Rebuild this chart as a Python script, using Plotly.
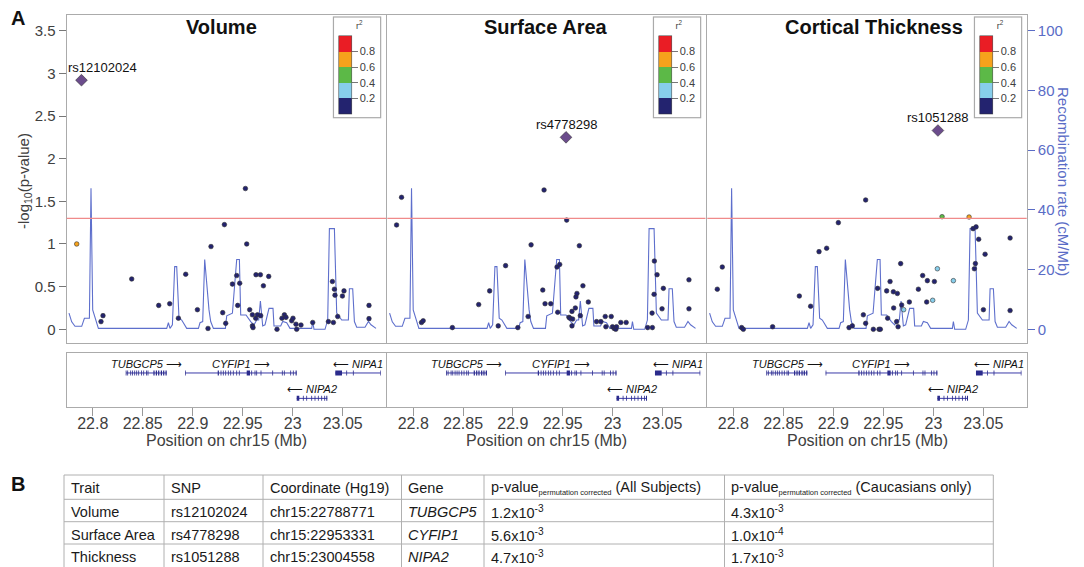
import math
import plotly.graph_objects as go

W, H = 1084, 567
FONT = "Liberation Sans, Arial, Helvetica, sans-serif"

# ---------------- data ----------------
traits = ["Volume", "Surface Area", "Cortical Thickness"]

recomb_pos = [22.7763, 22.7790, 22.7823, 22.7890, 22.7917, 22.7967, 22.7983, 22.8000, 22.8057, 22.8607,
              22.8740, 22.8757, 22.8773, 22.8797, 22.8820, 22.8840, 22.8863, 22.8890, 22.8940, 22.9057,
              22.9073, 22.9100, 22.9120, 22.9163, 22.9180, 22.9207, 22.9327, 22.9340, 22.9397, 22.9440,
              22.9467, 22.9480, 22.9533, 22.9580, 22.9613, 22.9640, 22.9660, 22.9677, 22.9700, 22.9723,
              22.9763, 22.9803, 22.9813, 22.9880, 22.9900, 22.9940, 22.9973, 23.0190, 23.0200, 23.0213,
              23.0323, 23.0350, 23.0367, 23.0417, 23.0440, 23.0490, 23.0557, 23.0567, 23.0600, 23.0617,
              23.0640, 23.0723, 23.0757, 23.0783, 23.0833]
recomb_rate = [5.4, 2.5, 1.0, 1.0, 3.7, 3.7, 47.2, 6.5, 0.3, 0.1,
               0.3, 2.2, 0.3, 1.5, 21.0, 21.0, 3.7, 3.1, 0.3, 0.3,
               2.2, 2.6, 23.4, 6.5, 2.6, 0.3, 0.3, 4.5, 5.4, 23.4,
               23.4, 4.8, 4.8, 2.6, 1.5, 3.1, 3.1, 9.5, 1.1, 1.5,
               7.0, 7.0, 1.1, 1.1, 2.6, 2.2, 0.3, 0.3, 2.6, 0.0,
               0.0, 3.1, 33.7, 33.7, 5.4, 3.1, 3.1, 13.6, 13.6, 2.6,
               0.7, 0.7, 2.6, 1.5, 0.3]

vol_pos = [22.784, 22.8083, 22.8103, 22.839, 22.866, 22.877, 22.8857, 22.893, 22.9047, 22.9153,
           22.9183, 22.93, 22.9317, 22.933, 22.9397, 22.944, 22.945, 22.947, 22.9527, 22.954,
           22.957, 22.9597, 22.9597, 22.9603, 22.9633, 22.963, 22.9647, 22.9677, 22.968, 22.9707,
           22.976, 22.9843, 22.9893, 22.9917, 22.9933, 22.999, 23.0003, 23.0033, 23.004, 23.0083,
           23.02, 23.0357, 23.0397, 23.0417, 23.0407, 23.0423, 23.045, 23.0497, 23.0513, 23.0763,
           23.0763]
vol_logp = [1.00, 0.09, 0.16, 0.59, 0.28, 0.30, 0.13, 0.645, 0.23, 0.01,
            0.97, 0.195, 1.227, 0.07, 0.53, 0.63, 0.28, 0.54, 1.65, 1.00,
            0.23, 0.17, 0.04, 0.02, 0.64, 0.13, 0.17, 0.64, 0.16, 0.51,
            0.62, 0.0, 0.13, 0.17, 0.14, 0.10, 0.13, 0.06, 0.00, 0.05,
            0.08, 0.09, 0.56, 0.47, 0.08, 0.40, 0.15, 0.39, 0.45, 0.28,
            0.125]
vol_r2 = [0.7] + [0.1] * 50

sa_pos = [22.7833, 22.7883, 22.8083, 22.81, 22.8393, 22.8657, 22.8767, 22.8853, 22.8927, 22.905,
          22.9153, 22.9183, 22.93, 22.9313, 22.9323, 22.938, 22.9443, 22.945, 22.947, 22.954,
          22.9563, 22.9573, 22.9593, 22.9593, 22.96, 22.9627, 22.9633, 22.9643, 22.9667, 22.9677,
          22.9703, 22.9757, 22.984, 22.9883, 22.9927, 22.9933, 22.9987, 23.0, 23.0017, 23.0033,
          23.004, 23.0083, 23.0137, 23.0353, 23.0397, 23.04, 23.0417, 23.042, 23.0447, 23.0497,
          23.051, 23.0767, 23.0767]
sa_logp = [1.223, 1.547, 0.08, 0.10, 0.02, 0.29, 0.45, 0.04, 0.746, 0.02,
           0.15, 0.99, 0.46, 1.633, 0.30, 0.30, 0.73, 0.20, 0.76, 1.28,
           0.14, 0.13, 0.21, 0.04, 0.12, 0.25, 0.38, 0.42, 0.98, 0.16,
           0.51, 0.32, 0.09, 0.09, 0.15, 0.03, 0.15, 0.03, 0.01, 0.0,
           0.03, 0.08, 0.08, 0.02, 0.19, 0.02, 0.41, 0.80, 0.64, 0.24,
           0.48, 0.58, 0.24]
sa_r2 = [0.1] * 53

ct_pos = [22.784, 22.789, 22.8083, 22.81, 22.8393, 22.866, 22.8773, 22.8857, 22.8933, 22.905,
          22.9157, 22.919, 22.93, 22.9323, 22.9323, 22.94, 22.9443, 22.9457, 22.947, 22.9533,
          22.9543, 22.9567, 22.96, 22.9603, 22.9633, 22.964, 22.9647, 22.9673, 22.9683, 22.976,
          22.985, 22.9893, 22.9933, 22.994, 23.001, 23.0397, 23.0427, 23.0453, 23.042, 23.041,
          23.0517, 23.05, 23.0767, 23.0767,
          22.9703, 22.9993, 23.004, 23.02, 23.0087, 23.0357]
ct_logp = [0.47, 0.73, 0.02, 0.0, 0.03, 0.39, 0.27, 0.91, 0.95, 1.25,
           0.02, 0.04, 0.17, 1.516, 0.07, 0.0, 0.48, 0.0, 0.0, 0.45,
           0.13, 0.56, 0.44, 0.25, 0.09, 0.42, 0.03, 0.77, 0.285, 0.32,
           0.47, 0.63, 0.32, 0.57, 0.56, 1.18, 1.20, 1.055, 0.77, 0.71,
           0.88, 0.23, 1.07, 0.22,
           0.23, 0.34, 0.71, 0.57, 1.32, 1.316]
ct_r2 = [0.1] * 44 + [0.3, 0.3, 0.3, 0.3, 0.5, 0.7]

lead_snp = ["rs12102024", "rs4778298", "rs1051288"]
lead_pos = [22.788771, 22.953331, 23.004558]
lead_logp = [2.92, 2.25, 2.33]

sig_p = 0.05

gene_name = ["TUBGCP5", "CYFIP1", "NIPA1", "NIPA2"]
gene_start = [22.8334, 22.8923, 23.0426, 23.0040]
gene_end = [22.8740, 23.0040, 23.0880, 23.0346]
gene_strand = ["+", "+", "-", "-"]
gene_row = [1, 1, 1, 2]
tubgcp5_exons = [(22.8330, 22.8338), (22.8346, 22.8354), (22.8376, 22.8384), (22.8393, 22.8401),
                 (22.8416, 22.8424), (22.8436, 22.8444), (22.8456, 22.8464), (22.8483, 22.8491),
                 (22.8506, 22.8514), (22.8533, 22.8541), (22.8549, 22.8557), (22.8607, 22.8619),
                 (22.8631, 22.8643), (22.8654, 22.8666), (22.8681, 22.8693), (22.8704, 22.8716),
                 (22.8728, 22.8740)]
cyfip1_exons = [(22.8923, 22.8930), (22.9250, 22.9262), (22.9279, 22.9287), (22.9302, 22.9310),
                (22.9326, 22.9334), (22.9352, 22.9360), (22.9376, 22.9384), (22.9402, 22.9410),
                (22.9436, 22.9444), (22.9462, 22.9470), (22.9540, 22.9573), (22.9586, 22.9594),
                (22.9619, 22.9627), (22.9636, 22.9644), (22.9679, 22.9687), (22.9796, 22.9804),
                (22.9892, 22.9900), (22.9912, 22.9920), (22.9976, 22.9984), (23.0002, 23.0010),
                (23.0029, 23.0040)]
nipa1_exons = [(23.0426, 23.0493), (23.0536, 23.0544), (23.0602, 23.0610), (23.0874, 23.0880)]
nipa2_exons = [(23.0040, 23.0066), (23.0102, 23.0110), (23.0136, 23.0144), (23.0186, 23.0194),
               (23.0219, 23.0227), (23.0252, 23.0260), (23.0286, 23.0294), (23.0316, 23.0324),
               (23.0336, 23.0346)]

pos_ticks = [22.8, 22.85, 22.9, 22.95, 23.0, 23.05]
pos_ticktext = ["22.8", "22.85", "22.9", "22.95", "23", "23.05"]
logp_ticks = [0, 0.5, 1, 1.5, 2, 2.5, 3, 3.5]
logp_ticktext = ["0", "0.5", "1", "1.5", "2", "2.5", "3", "3.5"]
rate_ticks = [0, 20, 40, 60, 80, 100]
r2_ticks = [0.2, 0.4, 0.6, 0.8]
r2_ticktext = ["0.2", "0.4", "0.6", "0.8"]

SUBP = '<sub><span style="font-size:7.5px">permutation corrected</span></sub>'
table_header = ["Trait", "SNP", "Coordinate (Hg19)", "Gene",
                "p-value" + SUBP + " (All Subjects)",
                "p-value" + SUBP + " (Caucasians only)"]
table_trait = ["Volume", "Surface Area", "Thickness"]
table_snp = ["rs12102024", "rs4778298", "rs1051288"]
table_coord = ["chr15:22788771", "chr15:22953331", "chr15:23004558"]
table_gene = ["TUBGCP5", "CYFIP1", "NIPA2"]
table_p_all = ["1.2x10<sup>-3</sup>", "5.6x10<sup>-3</sup>", "4.7x10<sup>-3</sup>"]
table_p_cauc = ["4.3x10<sup>-3</sup>", "1.0x10<sup>-4</sup>", "1.7x10<sup>-3</sup>"]

# ---------------- styling / layout helpers ----------------


def pxx(v):
    return v / W


def pxy(v):
    return 1 - v / H


FRAME = "#ababab"
TXT = "#404040"
RCOL = "#5a6cc6"
GCOL = "#2b2b8c"
NAVY = "#23236f"
r2_scale = [[0.0, NAVY], [0.2, NAVY], [0.2, "#87ceeb"], [0.4, "#87ceeb"],
            [0.4, "#5cb947"], [0.6, "#5cb947"], [0.6, "#f6a21c"], [0.8, "#f6a21c"],
            [0.8, "#ea1d25"], [1.0, "#ea1d25"]]

panel_px = [(66.7, 386.0), (387.3, 705.5), (707.3, 1026.7)]
top_dom = [pxy(343), pxy(15)]
gene_dom = [pxy(407), pxy(353)]
XR = [22.774, 23.0933]
PR = [-0.1606, 3.684]
RR = [PR[0] / 3.5 * 100, PR[1] / 3.5 * 100]

snp_pos = [vol_pos, sa_pos, ct_pos]
snp_logp = [vol_logp, sa_logp, ct_logp]
snp_r2 = [vol_r2, sa_r2, ct_r2]
exons = [tubgcp5_exons, cyfip1_exons, nipa1_exons, nipa2_exons]
row_y = {1: 0.63, 2: 0.16}
lab_y = {1: 0.79, 2: 0.33}

fig = go.Figure()
layout = dict(width=W, height=H, margin=dict(l=0, r=0, t=0, b=0),
              paper_bgcolor="white", plot_bgcolor="white", showlegend=False,
              hovermode=False, font=dict(family=FONT, color=TXT))
annotations = []
shapes = []

for i in range(3):
    n = i + 1
    xs = "" if n == 1 else str(n)
    xname = "x" + xs
    rate_ax = "y" + xs
    p_ax = "y" + str(n + 3)
    gx = "x" + str(n + 3)
    gy = "y" + str(n + 6)
    l, r = panel_px[i]

    layout["xaxis" + xs] = dict(domain=[pxx(l), pxx(r)], range=XR, anchor=rate_ax,
                                showline=True, mirror=True, linecolor=FRAME, linewidth=1.3,
                                showgrid=False, zeroline=False, showticklabels=False, ticks="")
    if n < 3:
        layout["yaxis" + xs] = dict(domain=top_dom, range=RR, anchor=xname, visible=False,
                                    showgrid=False, zeroline=False)
    else:
        layout["yaxis" + xs] = dict(domain=top_dom, range=RR, anchor=xname, side="right",
                                    showline=True, mirror=True, linecolor=FRAME, linewidth=1.3,
                                    showgrid=False, zeroline=False, tickvals=rate_ticks,
                                    ticks="outside", ticklen=7, tickcolor=RCOL,
                                    tickfont=dict(size=15, color=RCOL))
    pax = dict(overlaying=rate_ax, anchor=xname, range=PR, side="left",
               showgrid=False, zeroline=False)
    if n == 1:
        pax.update(showline=True, mirror=True, linecolor=FRAME, linewidth=1.3,
                   tickvals=logp_ticks, ticktext=logp_ticktext, ticks="outside",
                   ticklen=7, tickcolor="#777", tickfont=dict(size=15, color=TXT))
    elif n == 2:
        pax.update(showline=True, mirror=True, linecolor=FRAME, linewidth=1.3,
                   showticklabels=False, ticks="")
    else:
        pax.update(showline=False, showticklabels=False, ticks="")
    layout["yaxis" + str(n + 3)] = pax

    layout["xaxis" + str(n + 3)] = dict(domain=[pxx(l), pxx(r)], range=XR, anchor=gy,
                                        showline=True, mirror=True, linecolor=FRAME, linewidth=1.3,
                                        showgrid=False, zeroline=False, tickvals=pos_ticks,
                                        ticktext=pos_ticktext, ticks="outside", ticklen=8,
                                        ticklabelstandoff=-6,
                                        tickcolor="#999", tickfont=dict(size=16, color=TXT))
    layout["yaxis" + str(n + 6)] = dict(domain=gene_dom, range=[0, 1], anchor=gx,
                                        showline=True, mirror=True, linecolor=FRAME, linewidth=1.3,
                                        showgrid=False, zeroline=False, showticklabels=False, ticks="")

    # recombination line
    fig.add_trace(go.Scatter(x=recomb_pos, y=recomb_rate, xaxis=xname, yaxis=rate_ax,
                             mode="lines", line=dict(color="#5e6fcc", width=1.1)))
    # SNPs
    fig.add_trace(go.Scatter(
        x=snp_pos[i], y=snp_logp[i], xaxis=xname, yaxis=p_ax, mode="markers",
        marker=dict(size=4.6, color=snp_r2[i], colorscale=r2_scale, cmin=0, cmax=1,
                    line=dict(width=0.6, color="#333"),
                    colorbar=dict(x=pxx(r - 4.5), xanchor="right", y=pxy(17), yanchor="top",
                                  lenmode="pixels", len=99, thicknessmode="pixels", thickness=12.5,
                                  tickvals=r2_ticks, ticktext=r2_ticktext, ticks="outside",
                                  ticklen=6, tickcolor="#777", tickfont=dict(size=11, color=TXT),
                                  outlinewidth=0.5, outlinecolor="#333", bgcolor="white",
                                  bordercolor="#aaa", borderwidth=1.2, xpad=4.5, ypad=2,
                                  title=dict(text="&nbsp;" * 7 + "r<sup>2</sup>", side="top",
                                             font=dict(size=9, color=TXT))))))
    # lead SNP
    fig.add_trace(go.Scatter(x=[lead_pos[i]], y=[lead_logp[i]], xaxis=xname, yaxis=p_ax,
                             mode="markers",
                             marker=dict(symbol="diamond", size=9, color="#6b4c8c",
                                         line=dict(width=0.6, color="#333"))))
    annotations.append(dict(x=lead_pos[i], y=lead_logp[i], xref=xname, yref=p_ax,
                            text=lead_snp[i], showarrow=False, yshift=13,
                            xshift=[21, 0, 0][i], font=dict(size=13, color="#111")))
    # significance line
    shapes.append(dict(type="line", xref=xname + " domain", x0=0, x1=1, yref=p_ax,
                       y0=-math.log10(sig_p), y1=-math.log10(sig_p),
                       line=dict(color="#f08a8a", width=1.2)))
    # panel title
    annotations.append(dict(x=pxx((l + r) / 2 + [-5, 0, 7][i]), y=pxy(27), xref="paper",
                            yref="paper", text="<b>" + traits[i] + "</b>", showarrow=False,
                            font=dict(size=20, color="#111"), xanchor="center", yanchor="middle"))

    # gene track
    for g in range(4):
        yy = row_y[gene_row[g]]
        fig.add_trace(go.Scatter(x=[gene_start[g], gene_end[g]], y=[yy, yy], xaxis=gx, yaxis=gy,
                                 mode="lines", line=dict(color="#3b3ba8", width=1)))
        ex, ey = [], []
        for a, b in exons[g]:
            ex += [a, b, None]
            ey += [yy, yy, None]
        fig.add_trace(go.Scatter(x=ex, y=ey, xaxis=gx, yaxis=gy, mode="lines",
                                 line=dict(color=GCOL, width=5)))
        if gene_strand[g] == "+":
            lab = "<i>" + gene_name[g] + "</i> \u27f6"
        else:
            lab = "\u27f5 <i>" + gene_name[g] + "</i>"
        annotations.append(dict(x=(gene_start[g] + gene_end[g]) / 2, y=lab_y[gene_row[g]],
                                xref=gx, yref=gy, text=lab, showarrow=False,
                                font=dict(size=11, color="#111"), yanchor="middle"))
    annotations.append(dict(x=pxx((l + r) / 2), y=pxy(440), xref="paper", yref="paper",
                            text="Position on chr15 (Mb)", showarrow=False,
                            font=dict(size=16, color=TXT), xanchor="center", yanchor="middle"))

# axis titles
annotations.append(dict(x=pxx(25), y=pxy(181), xref="paper", yref="paper",
                        text="-log<sub>10</sub>(p-value)", showarrow=False, textangle=-90,
                        font=dict(size=15, color=TXT), xanchor="center", yanchor="middle"))
annotations.append(dict(x=pxx(1063), y=pxy(181), xref="paper", yref="paper",
                        text="Recombination rate (cM/Mb)", showarrow=False, textangle=90,
                        font=dict(size=15, color=RCOL), xanchor="center", yanchor="middle"))
# panel letters
annotations.append(dict(x=pxx(18), y=pxy(18), xref="paper", yref="paper", text="<b>A</b>",
                        showarrow=False, font=dict(size=20, color="#111"),
                        xanchor="center", yanchor="middle"))
annotations.append(dict(x=pxx(18), y=pxy(484), xref="paper", yref="paper", text="<b>B</b>",
                        showarrow=False, font=dict(size=20, color="#111"),
                        xanchor="center", yanchor="middle"))

# ---------------- table (built from the table lists) ----------------
col_edges = [64, 164, 263, 401.5, 484, 724.5, 993.3]
row_edges = [475, 499.3, 521.7, 544]
text_rows = [488, 512, 534.5, 557]
TLINE = "#b0b0b0"
for yv in row_edges:
    shapes.append(dict(type="line", xref="paper", yref="paper", x0=pxx(col_edges[0]),
                       x1=pxx(col_edges[-1]), y0=pxy(yv), y1=pxy(yv),
                       line=dict(color=TLINE, width=1)))
for xv in col_edges:
    shapes.append(dict(type="line", xref="paper", yref="paper", x0=pxx(xv), x1=pxx(xv),
                       y0=pxy(row_edges[0]), y1=pxy(H + 2), line=dict(color=TLINE, width=1)))
columns = [table_trait, table_snp, table_coord,
           ["<i>" + g + "</i>" for g in table_gene], table_p_all, table_p_cauc]
for c in range(6):
    cells = [table_header[c]] + columns[c]
    for rr, val in enumerate(cells):
        annotations.append(dict(x=pxx(col_edges[c] + 4.5), y=pxy(text_rows[rr]), xref="paper",
                                yref="paper", text=val, showarrow=False, xanchor="left",
                                yanchor="middle", font=dict(size=14.5, color="#1a1a1a")))

layout["annotations"] = annotations
layout["shapes"] = shapes
fig.update_layout(**layout)
fig.write_html("out.html", config={"displayModeBar": False},
               post_script="document.body.style.margin='0';document.body.style.overflow='hidden';")
